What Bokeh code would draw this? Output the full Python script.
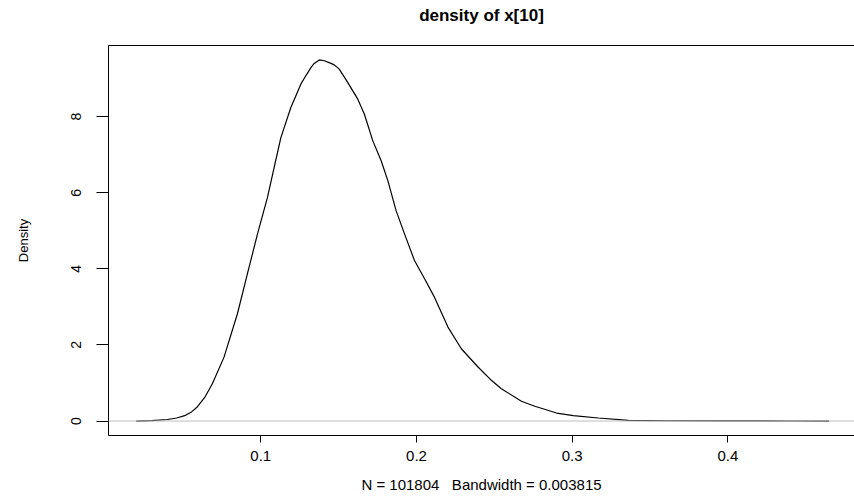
from bokeh.plotting import figure
from bokeh.models import Range1d, FixedTicker, LinearAxis, Span
from bokeh.embed import file_html
from bokeh.resources import INLINE

# density curve
dens_x = [0.020, 0.030, 0.040, 0.046, 0.0517, 0.0555, 0.0592, 0.064, 0.0689, 0.0764,
          0.085, 0.0914, 0.0979, 0.1043, 0.1086, 0.1129, 0.1193, 0.1258, 0.129, 0.1322,
          0.1343, 0.1376, 0.1408, 0.1451, 0.1472, 0.1504, 0.1558, 0.1623, 0.1665, 0.1719,
          0.1773, 0.1816, 0.1869, 0.1923, 0.1987, 0.2052, 0.2116, 0.2202, 0.2288, 0.2395,
          0.2481, 0.2545, 0.2674, 0.276, 0.290, 0.3007, 0.3168, 0.3361, 0.360, 0.400,
          0.440, 0.465]
dens_y = [0.0, 0.01, 0.04, 0.08, 0.15, 0.24, 0.37, 0.62, 0.98, 1.68,
          2.82, 3.87, 4.92, 5.88, 6.67, 7.45, 8.24, 8.86, 9.08, 9.29,
          9.40, 9.49, 9.47, 9.40, 9.36, 9.25, 8.90, 8.46, 8.07, 7.37,
          6.84, 6.32, 5.53, 4.92, 4.22, 3.74, 3.25, 2.47, 1.90, 1.42,
          1.07, 0.85, 0.52, 0.39, 0.21, 0.14, 0.08, 0.02, 0.008, 0.003,
          0.001, 0.0]

x_ticks = [0.1, 0.2, 0.3, 0.4]
y_ticks = [0, 2, 4, 6, 8]
title_text = "density of x[10]"
xlab = "N = 101804 \u00a0 Bandwidth = 0.003815"
ylab = "Density"

FONT = "Liberation Sans"

p = figure(width=854, height=496, output_backend="svg", toolbar_location=None,
           x_range=Range1d(0.0022, 0.4813), y_range=Range1d(-0.38, 9.87),
           min_border_left=108, min_border_top=45, min_border_bottom=61,
           min_border_right=0, x_axis_location="below", y_axis_location="left")
p.background_fill_color = "white"
p.border_fill_color = "white"
p.outline_line_color = None
p.xgrid.visible = False
p.ygrid.visible = False

# zero line
p.add_layout(Span(location=0, dimension="width", line_color="#bebebe", line_width=1))

p.line(dens_x, dens_y, line_color="black", line_width=1.2)

xa = p.xaxis[0]
xa.ticker = FixedTicker(ticks=x_ticks)
xa.major_label_overrides = {t: str(t) for t in x_ticks}
xa.minor_tick_line_color = None
xa.major_tick_out = 7
xa.major_tick_in = 0
xa.axis_line_color = "black"
xa.major_tick_line_color = "black"
xa.major_label_text_font = FONT
xa.major_label_text_font_size = "15px"
xa.major_label_text_color = "black"
xa.major_label_standoff = 8
xa.axis_label = xlab
xa.axis_label_text_font = FONT
xa.axis_label_text_font_style = "normal"
xa.axis_label_text_font_size = "15px"
xa.axis_label_text_color = "black"
xa.axis_label_standoff = 12

ya = p.yaxis[0]
ya.ticker = FixedTicker(ticks=y_ticks)
ya.minor_tick_line_color = None
ya.major_tick_out = 12
ya.major_tick_in = 0
ya.axis_line_color = "black"
ya.major_tick_line_color = "black"
ya.major_label_orientation = "vertical"
ya.major_label_text_font = FONT
ya.major_label_text_font_size = "14px"
ya.major_label_text_color = "black"
ya.major_label_standoff = 15
ya.axis_label = ylab
ya.axis_label_text_font = FONT
ya.axis_label_text_font_style = "normal"
ya.axis_label_text_font_size = "13px"
ya.axis_label_text_color = "black"
ya.axis_label_standoff = 38

# top border of the box, carrying the main title
top = LinearAxis(ticker=FixedTicker(ticks=[]), axis_line_color="black",
                 major_tick_line_color=None, minor_tick_line_color=None,
                 axis_label=title_text, axis_label_text_font=FONT,
                 axis_label_text_font_style="bold", axis_label_text_font_size="17px",
                 axis_label_text_color="black", axis_label_standoff=21)
p.add_layout(top, "above")

open("out.html", "w").write(file_html(p, INLINE))
